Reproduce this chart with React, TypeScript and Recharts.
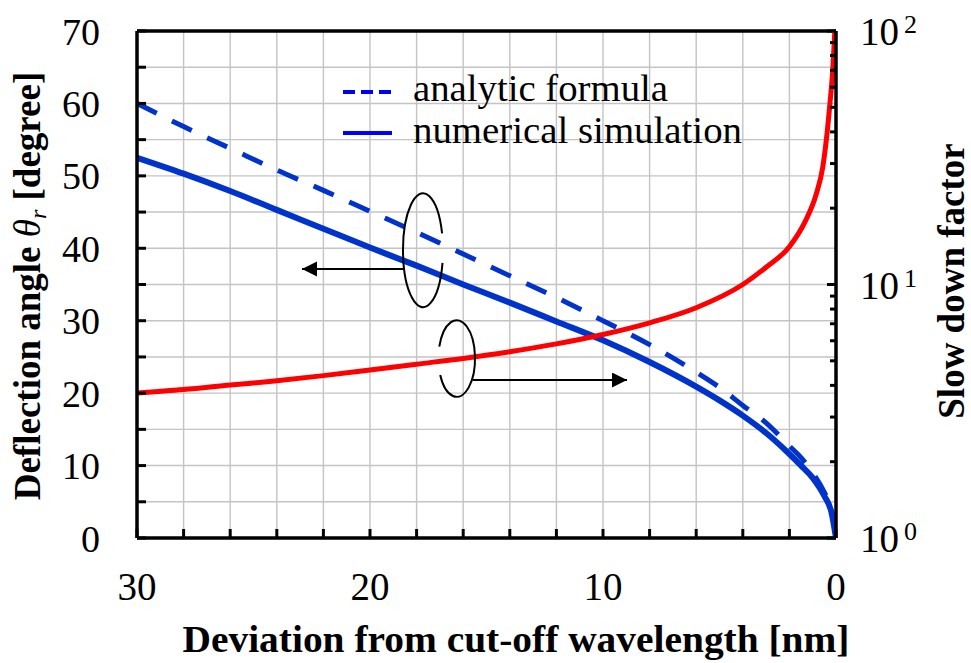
import React from "react";
import { LineChart, Line, XAxis, YAxis, CartesianGrid, ReferenceLine } from "recharts";

const FONT = "Liberation Serif, Times New Roman, serif";
const BLUE = "#0033cc";
const RED = "#ff0000";

// axis ticks
const nmTicks = [0, 2, 4, 6, 8, 10, 12, 14, 16, 18, 20, 22, 24, 26, 28, 30];
const degTicks = [0, 5, 10, 15, 20, 25, 30, 35, 40, 45, 50, 55, 60, 65, 70];
const slowTicks = [1, 2, 3, 4, 5, 6, 7, 8, 9, 10, 20, 30, 40, 50, 60, 70, 80, 90, 100];

// deflection angle (left axis)
const angleNm = [30, 28, 26, 24, 22, 20, 18, 16, 14, 12, 10, 8, 6, 5, 4, 3, 2, 1.5, 1, 0.5, 0.2, 0];
const analyticDeg = [60, 56.8, 53.8, 50.8, 48.0, 45.1, 42.2, 39.2, 36.2, 33.2, 30.0, 26.7, 22.9, 20.8, 18.3, 15.9, 12.7, 11.1, 9.0, 6.3, 4.0, 0];
const numericalDeg = [52.5, 50.3, 47.9, 45.3, 42.7, 40.1, 37.6, 35.0, 32.5, 29.9, 27.3, 24.3, 20.9, 19.0, 16.9, 14.5, 11.6, 10.0, 8.3, 5.8, 3.6, 0];

// slow down factor (right axis, log)
const slowNm = [30, 28, 26, 24, 22, 20, 18, 16, 14, 12, 10, 8, 6, 4, 3, 2, 1.3, 0.85, 0.57, 0.4, 0.26, 0.14, 0.05];
const slowFactor = [3.73, 3.85, 4.01, 4.17, 4.37, 4.6, 4.85, 5.11, 5.43, 5.83, 6.35, 7.06, 8.1, 10.0, 11.7, 14.1, 17.9, 22.7, 29, 38.3, 51.8, 70, 100];

const analyticData = angleNm.map((x, i) => ({ x, y: analyticDeg[i] }));
const numericalData = angleNm.map((x, i) => ({ x, y: numericalDeg[i] }));
const slowData = slowNm.map((x, i) => ({ x, y: slowFactor[i] }));

const txt = { fontFamily: FONT };

function NmTick({ x, y, payload }: any) {
  const v = payload.value;
  return (
    <g>
      <line x1={x} y1={y} x2={x} y2={y - 9} stroke="#000" strokeWidth={3} />
      {v % 10 === 0 && (
        <text x={x} y={y + 62} textAnchor="middle" style={txt} fontSize={39} fill="#000">
          {v}
        </text>
      )}
    </g>
  );
}

function DegTick({ x, y, payload }: any) {
  const v = payload.value;
  return (
    <g>
      <line x1={x} y1={y} x2={x + 9} y2={y} stroke="#000" strokeWidth={3} />
      {v % 10 === 0 && (
        <text x={x - 37} y={y + 13.5} textAnchor="end" style={txt} fontSize={38} fill="#000">
          {v}
        </text>
      )}
    </g>
  );
}

function SlowTick({ x, y, payload }: any) {
  const v = payload.value;
  const exp = Math.log10(v);
  const major = Math.abs(exp - Math.round(exp)) < 1e-6;
  return (
    <g>
      <line x1={x} y1={y} x2={x - (major ? 9 : 6)} y2={y} stroke="#000" strokeWidth={3} />
      {major && (
        <text x={x + 24} y={y + 14} style={txt} fontSize={39} fill="#000">
          10
        </text>
      )}
      {major && (
        <text x={x + 68} y={y + 2} style={txt} fontSize={26} fill="#000">
          {Math.round(exp)}
        </text>
      )}
    </g>
  );
}

function Overlay() {
  return (
    <svg
      width={971}
      height={663}
      style={{ position: "absolute", left: 0, top: 0, pointerEvents: "none" }}
    >
      <defs>
        <marker id="head" markerWidth="16" markerHeight="16" refX="15" refY="7.5" orient="auto" markerUnits="userSpaceOnUse">
          <path d="M0,0 L15,7.5 L0,15 Z" fill="#000" />
        </marker>
      </defs>

      {/* legend */}
      <line x1={343} y1={92} x2={392} y2={92} stroke="#0000ff" strokeWidth={4} strokeDasharray="12 6" />
      <text x={413} y={101} style={txt} fontSize={38} textLength={255} lengthAdjust="spacingAndGlyphs">
        analytic formula
      </text>
      <line x1={343} y1={133} x2={392} y2={133} stroke="#0000ff" strokeWidth={4} />
      <text x={413} y={143} style={txt} fontSize={38} textLength={329} lengthAdjust="spacingAndGlyphs">
        numerical simulation
      </text>

      {/* pointer to left axis */}
      <path d="M442.1,233.3 A20,57 0 1 0 442.5,262.8" fill="none" stroke="#000" strokeWidth={2} />
      <line x1={403} y1={269} x2={302} y2={269} stroke="#000" strokeWidth={2} markerEnd="url(#head)" />

      {/* pointer to right axis */}
      <path d="M439.3,346.7 A18.3,38.3 0 1 1 440.2,375" fill="none" stroke="#000" strokeWidth={2} />
      <line x1={473} y1={380} x2={627} y2={380} stroke="#000" strokeWidth={2} markerEnd="url(#head)" />

      {/* axis titles */}
      <text
        x={516}
        y={652}
        textAnchor="middle"
        style={txt}
        fontWeight="bold"
        fontSize={37}
        textLength={667}
        lengthAdjust="spacingAndGlyphs"
      >
        Deviation from cut-off wavelength [nm]
      </text>
      <text
        transform="translate(40,286) rotate(-90)"
        textAnchor="middle"
        style={txt}
        fontWeight="bold"
        fontSize={37}
      >
        Deflection angle <tspan fontStyle="italic" fontWeight="normal">θ</tspan>
        <tspan fontStyle="italic" fontWeight="normal" fontSize={24} dy={6}>r</tspan>
        <tspan dy={-6}> [degree]</tspan>
      </text>
      <text
        transform="translate(964,281) rotate(-90)"
        textAnchor="middle"
        style={txt}
        fontWeight="bold"
        fontSize={37}
      >
        Slow down factor
      </text>
    </svg>
  );
}

export default function App() {
  return (
    <div style={{ position: "absolute", left: 0, top: 0, width: 971, height: 663, background: "#fff" }}>
      <LineChart width={971} height={663} margin={{ top: 31, right: 0, bottom: 0, left: 0 }}>
        <CartesianGrid yAxisId="left" stroke="#c4c4c4" strokeWidth={1.4} />
        <XAxis
          dataKey="x"
          type="number"
          domain={[0, 30]}
          reversed
          ticks={nmTicks}
          interval={0}
          height={125}
          tickSize={0}
          tickMargin={0}
          tickLine={false}
          tick={<NmTick />}
          axisLine={{ stroke: "#000", strokeWidth: 3.5 }}
          allowDataOverflow
        />
        <YAxis
          yAxisId="left"
          type="number"
          domain={[0, 70]}
          ticks={degTicks}
          interval={0}
          width={137}
          tickSize={0}
          tickMargin={0}
          tickLine={false}
          tick={<DegTick />}
          axisLine={{ stroke: "#000", strokeWidth: 3.5 }}
          allowDataOverflow
        />
        <YAxis
          yAxisId="right"
          orientation="right"
          type="number"
          scale="log"
          domain={[1, 100]}
          ticks={slowTicks}
          interval={0}
          width={135}
          tickSize={0}
          tickMargin={0}
          tickLine={false}
          tick={<SlowTick />}
          axisLine={{ stroke: "#000", strokeWidth: 3.5 }}
          allowDataOverflow
        />
        <ReferenceLine yAxisId="left" y={70} stroke="#000" strokeWidth={3.5} />
        <Line
          yAxisId="left"
          data={analyticData}
          dataKey="y"
          type="monotone"
          stroke={BLUE}
          strokeWidth={5}
          strokeDasharray="22 17"
          dot={false}
          isAnimationActive={false}
        />
        <Line
          yAxisId="left"
          data={numericalData}
          dataKey="y"
          type="monotone"
          stroke={BLUE}
          strokeWidth={6}
          dot={false}
          isAnimationActive={false}
        />
        <Line
          yAxisId="right"
          data={slowData}
          dataKey="y"
          type="monotone"
          stroke={RED}
          strokeWidth={5}
          dot={false}
          isAnimationActive={false}
        />
      </LineChart>
      <Overlay />
    </div>
  );
}
